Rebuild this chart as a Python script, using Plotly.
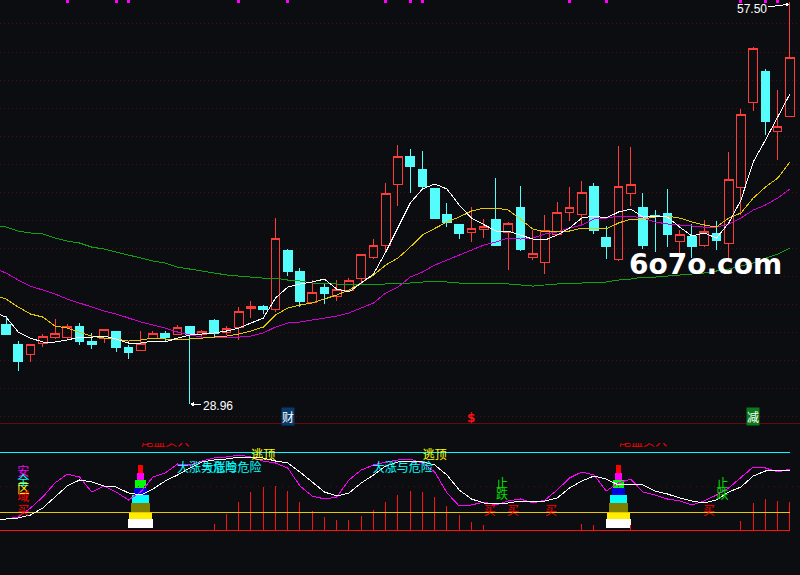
import plotly.graph_objects as go

BG = "#0c0d10"
RED = "#ff3c3c"
CYAN = "#54fcfc"

# candles, oldest first
opens = [34.57, 33.15, 32.44, 33.22, 33.71, 33.71, 34.49, 33.43, 33.64, 34.14, 33.00, 32.79, 33.64,
         34.00, 33.86, 34.49, 33.86, 34.92, 34.07, 34.42, 35.77, 35.91, 35.70, 39.89, 38.40, 36.20,
         37.26, 36.62, 37.05, 37.90, 39.39, 40.24, 44.51, 46.56, 45.64, 44.29, 42.38, 41.67, 41.17,
         41.38, 42.09, 41.10, 42.94, 39.39, 39.04, 40.96, 42.52, 42.38, 44.43, 40.81, 39.25, 43.87,
         42.94, 42.35, 42.45, 40.53, 40.88, 40.24, 41.03, 40.32, 44.36, 50.33, 52.60, 48.27, 49.40]
highs = [35.20, 33.43, 33.15, 33.93, 34.99, 34.64, 34.71, 34.00, 34.28, 34.14, 33.15, 34.14, 34.14,
         34.14, 34.57, 34.49, 34.21, 34.99, 34.49, 35.84, 36.27, 35.98, 42.16, 39.96, 38.61, 37.76,
         37.55, 37.76, 37.90, 39.54, 40.67, 44.65, 47.34, 47.06, 46.92, 44.29, 43.23, 41.74, 42.94,
         42.09, 45.00, 41.88, 44.43, 41.31, 42.38, 43.30, 44.36, 44.79, 44.65, 41.59, 47.27, 47.20,
         43.94, 42.73, 44.22, 41.31, 41.74, 42.02, 41.95, 46.85, 49.90, 54.30, 52.74, 51.25, 57.50]
lows = [33.86, 31.30, 31.94, 33.00, 33.57, 33.57, 33.15, 32.86, 33.29, 32.65, 32.15, 32.79, 33.64,
        33.43, 33.86, 28.96, 33.64, 33.71, 33.86, 33.50, 35.06, 35.35, 35.49, 38.04, 35.84, 36.13,
        36.06, 36.27, 37.05, 37.48, 39.25, 39.82, 43.01, 43.94, 44.15, 42.16, 41.52, 40.67, 40.46,
        40.74, 40.24, 38.47, 39.82, 39.18, 38.19, 40.96, 41.95, 41.74, 41.03, 39.25, 39.11, 43.01,
        39.96, 39.75, 40.10, 39.18, 39.32, 40.10, 39.89, 39.25, 42.38, 49.76, 48.06, 46.28, 49.40]
closes = [33.86, 32.01, 33.15, 33.78, 34.00, 34.49, 33.43, 33.15, 34.28, 33.00, 32.65, 33.22, 34.00,
          33.71, 34.42, 33.86, 34.14, 34.00, 34.35, 35.56, 35.91, 35.70, 40.74, 38.40, 36.27, 36.91,
          36.84, 37.12, 37.76, 39.54, 40.24, 43.87, 46.56, 45.85, 44.43, 42.16, 41.81, 41.03, 41.45,
          41.59, 40.24, 41.74, 39.96, 39.61, 41.31, 42.52, 42.94, 43.94, 41.31, 40.17, 44.43, 44.51,
          40.24, 42.28, 40.96, 40.96, 40.17, 41.24, 40.60, 44.93, 49.48, 54.23, 48.98, 48.69, 53.59]
days = list(range(65))

# moving averages start one day earlier so they run off the left edge
ma_days = list(range(-1, 65))
ma5 = [35.49, 35.13, 34.07, 33.64, 33.36, 33.36, 33.50, 33.71, 33.71, 33.78, 33.57, 33.29, 33.29,
       33.43, 33.36, 33.64, 33.86, 33.93, 34.00, 34.14, 34.35, 34.71, 35.06, 36.48, 37.26, 37.48,
       37.62, 37.83, 37.12, 36.91, 37.55, 38.19, 39.75, 41.52, 43.23, 44.22, 44.58, 44.22, 43.08,
       42.16, 41.67, 41.24, 41.24, 40.96, 40.67, 40.60, 40.96, 41.45, 42.16, 42.30, 42.16, 42.59,
       42.80, 42.23, 42.30, 42.23, 41.52, 40.88, 41.10, 40.74, 41.81, 43.44, 46.14, 47.70, 49.33, 50.97]
ma10 = [36.70, 36.41, 35.84, 35.35, 35.13, 34.49, 34.35, 34.07, 33.78, 33.64, 33.57, 33.43, 33.50,
        33.64, 33.57, 33.57, 33.57, 33.64, 33.71, 33.78, 33.93, 34.14, 34.42, 35.28, 35.77, 35.98,
        36.13, 36.41, 36.70, 37.05, 37.55, 38.12, 38.82, 39.32, 40.10, 40.96, 41.45, 41.88, 42.23,
        42.66, 42.87, 42.87, 42.73, 42.09, 41.38, 41.17, 41.24, 41.24, 41.45, 41.45, 41.38, 41.81,
        42.09, 42.09, 42.23, 42.30, 42.16, 41.88, 41.67, 41.52, 42.16, 42.52, 43.58, 44.36, 45.00, 46.14]
ma20 = [38.61, 38.26, 37.76, 37.33, 37.05, 36.77, 36.41, 36.13, 35.84, 35.56, 35.35, 35.06, 34.78,
        34.57, 34.35, 34.07, 33.86, 33.71, 33.71, 33.71, 33.71, 33.78, 34.00, 34.42, 34.71, 34.78,
        34.92, 35.06, 35.20, 35.42, 35.77, 36.13, 36.84, 37.26, 37.97, 38.33, 38.82, 39.18, 39.54,
        39.89, 40.24, 40.46, 40.74, 40.67, 40.74, 41.03, 41.17, 41.45, 41.67, 42.09, 42.16, 42.30,
        42.30, 42.16, 41.88, 41.74, 41.67, 41.59, 41.52, 41.52, 41.74, 42.16, 42.73, 43.08, 43.58, 44.22]
ma60 = [41.67, 41.52, 41.24, 41.10, 41.03, 40.74, 40.53, 40.39, 40.10, 39.96, 39.75, 39.54, 39.32,
        39.11, 38.97, 38.68, 38.54, 38.40, 38.26, 38.12, 38.04, 37.97, 37.90, 37.90, 37.76, 37.69,
        37.55, 37.48, 37.48, 37.41, 37.41, 37.41, 37.48, 37.55, 37.55, 37.62, 37.69, 37.62, 37.55,
        37.55, 37.55, 37.48, 37.48, 37.41, 37.33, 37.41, 37.48, 37.55, 37.55, 37.62, 37.62, 37.76,
        37.83, 37.97, 37.97, 38.04, 38.12, 38.19, 38.26, 38.40, 38.54, 38.75, 38.97, 39.32, 39.61, 40.03]

# days flagged along the top edge
flag_days = [5, 9, 10, 19, 23, 31, 33, 34, 46, 49, 60, 62, 63]

# lower indicator panel
fast = [13, 13, 14, 17, 24, 35, 46, 52, 50, 46, 45, 39, 37, 43, 51, 57, 64, 70, 72, 73, 75, 75, 74,
        71, 69, 60, 50, 40, 36, 39, 49, 57, 66, 70, 71, 70, 67, 57, 42, 33, 29, 29, 29, 31, 31, 31,
        34, 44, 51, 56, 53, 47, 48, 47, 41, 38, 34, 31, 29, 32, 40, 45, 56, 61, 62, 62]
slow = [13, 13, 15, 24, 35, 49, 58, 55, 40, 46, 40, 32, 40, 55, 59, 68, 67, 71, 74, 75, 77, 75, 71,
        69, 64, 46, 36, 33, 35, 52, 62, 67, 70, 72, 73, 69, 60, 39, 26, 27, 30, 27, 31, 33, 29, 32,
        42, 54, 60, 57, 41, 49, 53, 40, 37, 33, 31, 27, 31, 37, 44, 55, 65, 64, 60, 63]
bar_days = [17, 18, 19, 20, 21, 22, 23, 24, 25, 26, 27, 28, 29, 30, 31, 32, 33, 34, 35, 36, 37, 38, 39,
            47, 48, 51, 60, 61, 62, 63, 64]
bar_tops = [8, 18, 30, 40, 45, 46, 41, 30, 21, 15, 12, 12, 16, 22, 30, 37, 41, 40, 35, 26, 17, 10, 7,
            8, 7, 7, 11, 29, 33, 31, 30]
tower_days = [11, 50]
tower_edges = [4, 13, 20, 28.7, 36.7, 44, 52, 59, 67]
tower_colors = ["#ffffff", "#ffee00", "#808000", "#00ffff", "#0000e0", "#00ff00", "#ff00ff", "#ff0000"]
tower_widths = [2.05, 1.85, 1.55, 1.4, 1.05, 0.9, 0.6, 0.4]

label_text = ["尾盘买入", "尾盘买入", "逃顶", "逃顶", "大涨与危险", "大涨与危险", "大涨与危险",
              "安", "全", "区", "域", "买", "买", "买", "买", "买", "止", "跌", "止", "跌"]
label_x = [13, 52, 21, 35, 16.4, 18.4, 32.4, 1.4, 1.4, 1.4, 1.4, 1.4, 39.5, 41.4, 44.5, 57.4,
           40.5, 40.5, 58.5, 58.5]
label_y = [89, 89, 76, 76, 63, 63, 63, 59, 50, 42, 34, 20, 20, 20, 20, 20, 47, 36, 47, 36]
label_color = ["#ff0000", "#ff0000", "#ffff00", "#ffff00", "#00ffff", "#00ffff", "#00ffff",
               "#ff00ff", "#00ffff", "#ffff00", "#ff0000", "#ff0000", "#ff0000", "#ff0000", "#ff0000",
               "#ff0000", "#00e000", "#00e000", "#00e000", "#00e000"]

fig = go.Figure()

fig.add_trace(go.Candlestick(x=days, open=opens, high=highs, low=lows, close=closes, whiskerwidth=0,
                             increasing=dict(line=dict(color=RED, width=1), fillcolor="rgba(0,0,0,0)"),
                             decreasing=dict(line=dict(color=CYAN, width=1), fillcolor=CYAN)))

for values, color in [(ma60, "#14a014"), (ma20, "#d000d0"), (ma10, "#e6c800"), (ma5, "#ffffff")]:
    fig.add_trace(go.Scatter(x=ma_days, y=values, mode="lines", line=dict(color=color, width=1)))

fig.add_trace(go.Scatter(x=flag_days, y=[57.53] * len(flag_days), mode="markers",
                         marker=dict(symbol="square", size=3, color="#ff00ff", line=dict(width=0))))

# lower panel: thin stems drawn as one broken line
stem_x = []
stem_y = []
for d, t in zip(bar_days, bar_tops):
    stem_x += [d, d, None]
    stem_y += [2, t, None]
fig.add_trace(go.Scatter(x=stem_x, y=stem_y, mode="lines", yaxis="y2", line=dict(color="#ff1010", width=1)))

for n in range(len(tower_colors)):
    fig.add_trace(go.Bar(x=tower_days, y=[tower_edges[n + 1] - tower_edges[n]] * 2, base=tower_edges[n],
                         width=tower_widths[n], yaxis="y2",
                         marker=dict(color=tower_colors[n], line=dict(width=0))))

for level, color in [(80, "#00ffff"), (20, "#e6c800"), (2, "#ff1010")]:
    fig.add_trace(go.Scatter(x=[-1, 64], y=[level, level], mode="lines", yaxis="y2",
                             line=dict(color=color, width=1)))
fig.add_trace(go.Scatter(x=[-1, 65], y=[46, 46], mode="lines", yaxis="y2",
                         line=dict(color="#5a0c0c", width=1, dash="1px,5px")))

fig.add_trace(go.Scatter(x=ma_days, y=slow, mode="lines", yaxis="y2", line=dict(color="#ff00ff", width=1)))
fig.add_trace(go.Scatter(x=ma_days, y=fast, mode="lines", yaxis="y2", line=dict(color="#ffffff", width=1)))

fig.add_trace(go.Scatter(x=label_x, y=label_y, text=label_text, mode="text", yaxis="y2", cliponaxis=True,
                         textposition="middle center",
                         textfont=dict(family="Noto Sans CJK SC", size=12, color=label_color)))

# separator between the panels
fig.add_shape(type="line", xref="paper", x0=0, x1=1, yref="y", y0=27.56, y1=27.56,
              line=dict(color="#6a0a0a", width=1))

text_font = dict(family="Liberation Sans", size=12, color="#ffffff")
fig.add_annotation(x=64, y=57.35, text="57.50", font=text_font, ax=-38, ay=5, arrowcolor="#ffffff",
                   arrowwidth=1, arrowhead=2, arrowsize=0.8, showarrow=True)
fig.add_annotation(x=15, y=28.96, text="28.96", font=text_font, ax=28, ay=2, arrowcolor="#ffffff",
                   arrowwidth=1, arrowhead=2, arrowsize=0.8, showarrow=True)

cjk = dict(family="Noto Sans CJK SC", size=12, color="#ffffff")
fig.add_annotation(x=23, y=28.1, text="财", font=cjk, bgcolor="#0a3a6a", borderpad=0, showarrow=False)
fig.add_annotation(x=61, y=28.1, text="减", font=cjk, bgcolor="#0a7a1a", borderpad=0, showarrow=False)
fig.add_annotation(x=38, y=28.0, text="<b>$</b>", font=dict(family="DejaVu Sans", size=12, color="#ff1010"),
                   showarrow=False)
fig.add_annotation(x=57.1, y=38.83, text="<b>6o7o.com</b>", showarrow=False,
                   font=dict(family="DejaVu Sans", size=28, color="#ffffff"))

fig.update_layout(width=800, height=575, margin=dict(l=0, r=0, t=0, b=0), showlegend=False,
                  paper_bgcolor=BG, plot_bgcolor=BG, barmode="overlay", hovermode=False,
                  boxgap=0.3, boxgroupgap=0,
                  xaxis=dict(range=[-0.49, 64.82], visible=False, rangeslider=dict(visible=False)),
                  yaxis=dict(domain=[1 - 424 / 575, 1], range=[27.54, 57.64], showticklabels=False,
                             ticks="", zeroline=False, showgrid=True, gridcolor="#4a0c0c", griddash="1px,3px",
                             tickmode="linear", tick0=55.94, dtick=1.992),
                  yaxis2=dict(domain=[0, 132 / 575], range=[-43, 89], anchor="x", visible=False))

# the terminal this comes from draws aliased 1px lines
fig.write_html("out.html", config=dict(displayModeBar=False),
               post_script="document.body.style.margin='0';document.body.style.overflow='hidden';"
                           "document.body.style.background='" + BG + "';"
                           "document.querySelectorAll('.main-svg path').forEach(function(p){"
                           "p.style.shapeRendering='crispEdges';});")
